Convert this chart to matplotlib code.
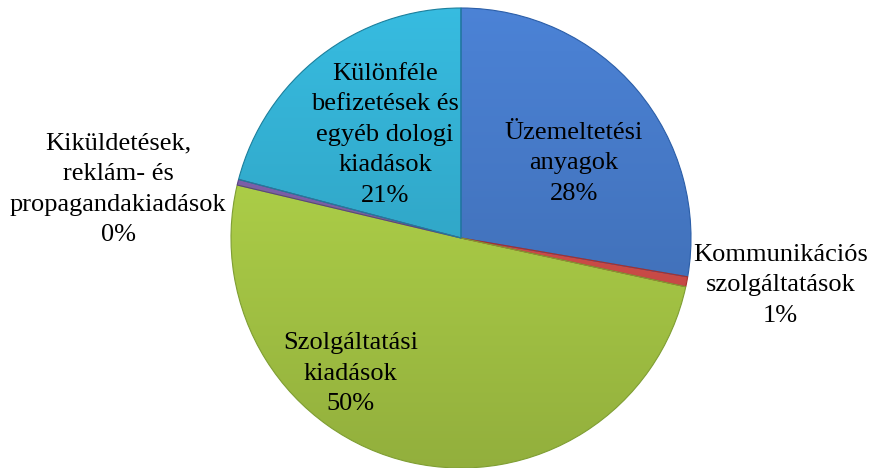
import numpy as np
import matplotlib
matplotlib.use('Agg')
import matplotlib.pyplot as plt
from matplotlib.colors import to_rgb

# kiadási kategóriák (%)
categories = ['Üzemeltetési\nanyagok', 'Kommunikációs\nszolgáltatások',
              'Szolgáltatási\nkiadások', 'Kiküldetések,\nreklám- és\npropagandakiadások',
              'Különféle\nbefizetések és\negyéb dologi\nkiadások']
values = [27.7, 0.7, 50.3, 0.4, 20.9]
pct_labels = ['28%', '1%', '50%', '0%', '21%']
colors = ['#4a80d2', '#e0534f', '#b7db4c', '#8466b4', '#36b8dc']
edge_colors = ['#2b5ea8', '#a8302c', '#7f9e33', '#5a4187', '#1c7f9c']

# label placement (data coords, pie radius = 1)
label_pos = [(0.49, 0.325), (1.39, -0.205), (-0.48, -0.59), (-1.49, 0.21), (-0.33, 0.45)]

plt.rcParams['font.family'] = ['Liberation Serif', 'DejaVu Serif']

fig = plt.figure(figsize=(8.7, 4.68), dpi=100)
ax = fig.add_axes([0, 0, 1, 1])

wedges, _ = ax.pie(values, colors=colors, startangle=90, counterclock=False,
                   radius=1.0, wedgeprops=dict(linewidth=0.8))

# vertical shading inside each wedge (lighter top, darker bottom)
yy = np.linspace(1, -1, 256)[:, None]
shade = 0.80 + 0.22 * (yy + 1) / 2
for w, c, ec in zip(wedges, colors, edge_colors):
    w.set_edgecolor(ec)
    rgb = np.clip(np.array(to_rgb(c))[None, None, :] * shade[:, :, None], 0, 1)
    img = np.repeat(rgb, 2, axis=1)
    im = ax.imshow(img, extent=(-1, 1, -1, 1), zorder=w.get_zorder() + 0.1,
                   aspect='auto', interpolation='bilinear')
    im.set_clip_path(w)
    w.set_facecolor('none')
    w.set_zorder(w.get_zorder() + 0.2)

for lab, pct, (x, y) in zip(categories, pct_labels, label_pos):
    ax.text(x, y, lab + '\n' + pct, ha='center', va='center',
            fontsize=19, linespacing=1.5, color='black', zorder=5)

ax.set_xlim(-461 / 230, (870 - 461) / 230)
ax.set_ylim(-1.0, 238 / 230)
ax.set_aspect('equal')
ax.axis('off')

fig.savefig('out.png', dpi=100)
